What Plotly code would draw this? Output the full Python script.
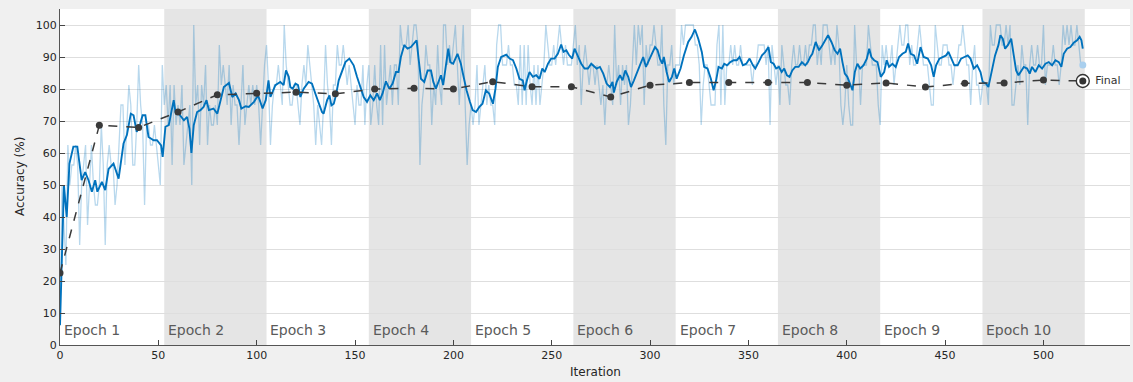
import plotly.graph_objects as go

# ---------------- data ----------------
batch_size = 16
# mini-batch correct counts (out of 16) per iteration 0..520
train_correct = [
    1, 8, 6, 4, 10, 8, 9, 9, 10, 9,
    5, 8, 9, 10, 6, 8, 10, 8, 7, 7,
    8, 11, 9, 5, 9, 10, 9, 9, 7, 8,
    10, 12, 12, 9, 11, 13, 12, 9, 9, 11,
    14, 12, 11, 7, 11, 11, 10, 10, 11, 10,
    9, 8, 14, 12, 13, 11, 13, 9, 13, 11,
    12, 11, 13, 9, 10, 11, 12, 8, 16, 12,
    13, 10, 13, 12, 14, 10, 12, 11, 11, 12,
    11, 15, 13, 14, 13, 12, 14, 11, 13, 12,
    12, 10, 12, 14, 11, 12, 13, 12, 13, 12,
    13, 12, 10, 12, 14, 15, 13, 10, 12, 13,
    13, 14, 13, 12, 16, 14, 13, 12, 12, 13,
    13, 12, 11, 13, 14, 13, 15, 14, 13, 12,
    10, 12, 11, 10, 12, 15, 13, 12, 10, 13,
    13, 15, 14, 14, 15, 14, 13, 14, 13, 12,
    11, 13, 12, 12, 14, 11, 13, 14, 11, 12,
    14, 12, 11, 15, 11, 15, 12, 13, 14, 12,
    14, 14, 12, 16, 15, 15, 15, 16, 14, 15,
    16, 16, 15, 9, 12, 13, 15, 14, 14, 11,
    13, 12, 15, 13, 12, 16, 16, 14, 15, 14,
    15, 16, 14, 12, 14, 16, 12, 9, 11, 12,
    11, 12, 14, 11, 12, 13, 14, 12, 13, 12,
    12, 11, 15, 16, 16, 14, 14, 14, 15, 14,
    14, 13, 13, 12, 15, 12, 15, 12, 15, 13,
    12, 14, 12, 14, 12, 13, 14, 16, 15, 14,
    14, 15, 14, 15, 16, 15, 14, 15, 14, 14,
    14, 15, 16, 14, 15, 12, 14, 15, 14, 13,
    14, 14, 13, 14, 13, 12, 13, 11, 13, 14,
    13, 12, 16, 13, 14, 12, 14, 13, 14, 11,
    12, 14, 16, 14, 16, 15, 16, 12, 15, 14,
    15, 15, 16, 15, 14, 14, 16, 12, 10, 14,
    14, 15, 13, 14, 14, 14, 16, 15, 16, 16,
    16, 16, 16, 15, 15, 14, 11, 13, 14, 14,
    13, 12, 12, 12, 15, 16, 12, 16, 12, 14,
    14, 15, 14, 15, 14, 14, 15, 14, 14, 14,
    14, 14, 13, 14, 14, 15, 15, 15, 15, 14,
    15, 11, 15, 14, 13, 14, 12, 15, 14, 13,
    13, 12, 14, 15, 14, 14, 15, 14, 14, 15,
    14, 15, 15, 16, 16, 14, 15, 14, 16, 16,
    16, 15, 14, 15, 14, 16, 15, 12, 11, 12,
    14, 12, 11, 11, 16, 14, 14, 12, 14, 14,
    14, 16, 15, 14, 14, 14, 12, 11, 15, 14,
    15, 14, 14, 15, 13, 14, 15, 16, 15, 15,
    16, 16, 14, 15, 14, 14, 15, 16, 15, 14,
    14, 14, 13, 12, 12, 16, 15, 14, 14, 15,
    15, 15, 14, 14, 13, 14, 14, 15, 15, 16,
    15, 14, 14, 12, 14, 15, 13, 13, 12, 13,
    13, 13, 12, 16, 15, 15, 16, 16, 16, 15,
    15, 16, 15, 16, 12, 12, 13, 14, 13, 15,
    14, 14, 11, 14, 15, 14, 14, 15, 14, 14,
    16, 13, 14, 14, 14, 15, 14, 14, 13, 14,
    16, 15, 16, 15, 16, 15, 15, 16, 15, 14, 14,
]
train_iter = list(range(len(train_correct)))
train_acc = [100.0 * c / batch_size for c in train_correct]

smooth_iter = [
    0, 2, 3.4, 4.8, 6.8, 8.8, 11, 12.8, 14.5, 16.2, 17.9, 19, 21.3, 23, 24.7, 27.2, 29.8,
    32.3, 34, 36, 37.4, 39, 40.8, 42, 43.4, 45, 47.6, 49.3, 51.4, 52.2, 53.6, 55.3, 57.8,
    58.7, 60.4, 63, 64.6, 65.8, 66.8, 68, 69.7, 71.4, 73, 74.5, 75.7, 78, 80, 81.6, 83.3,
    85.9, 87.6, 89.3, 91, 92.2, 94.4, 96, 98.6, 100.7, 103, 104.6, 106, 107, 109.5, 112,
    113.7, 114.9, 116.3, 117.1, 118.3, 119.7, 121, 122.2, 123.9, 126.4, 128.1, 129.8,
    131.5, 133.2, 134, 135.8, 137, 138, 139.2, 140.3, 141.7, 143.4, 145.1, 147.1, 149.3,
    151, 152.7, 154.4, 156.1, 157.8, 159.5, 161.2, 162.6, 164, 165.7, 167.4, 169.1, 170.8,
    172.1, 173.3, 175, 176.7, 178.4, 180.1, 181.3, 182.3, 183.5, 185.2, 186.9, 188.6,
    189.8, 191.1, 192.5, 193.7, 194.8, 196.2, 197.4, 198.4, 199.9, 202.1, 203.8, 205.2,
    206.7, 208.4, 209.8, 211.5, 213.2, 214.8, 216.5, 218.2, 220.1, 221.4, 222.6, 224.3,
    226.9, 228.6, 230.3, 232, 233.6, 235.3, 236.2, 237.4, 238.7, 240.4, 242.1, 243.8,
    245.2, 246.4, 248.1, 249.7, 251.4, 253.1, 254.8, 256, 257.4, 258.7, 260.4, 261.6,
    263.3, 265, 266.7, 268.4, 270.1, 271.1, 272.8, 274.5, 276.2, 277.9, 279.6, 280.9,
    281.6, 283, 284.7, 286, 287.4, 288.9, 290.3, 291.8, 293.5, 295.2, 296.5, 297.9, 299.1,
    300.8, 302.5, 303.8, 305, 306.2, 307, 308.4, 309.7, 311.1, 312.3, 313.5, 315.5, 317.2,
    319.4, 321.1, 322.8, 324.5, 326.3, 327.5, 329.2, 330.9, 332.3, 333.6, 334.8, 336.5,
    337.7, 339.1, 340.8, 342.5, 344.1, 345.5, 347.2, 348.9, 350.6, 352.3, 353.5, 355.2,
    356.9, 358.6, 360.2, 361.4, 362.8, 364.1, 365.5, 366.9, 368.2, 369.6, 370.9, 372.3,
    373.8, 375.5, 377.2, 378.9, 380.3, 381.4, 382.5, 384.2, 385.9, 387.6, 389.3, 390.5,
    392.2, 393.9, 395.3, 396.6, 397.8, 399, 400.3, 401.7, 402.9, 404.1, 405.4, 406.8,
    408.5, 410.2, 411.4, 412.5, 413.9, 415.6, 417.3, 419, 420.3, 421.5, 423.2, 424.9,
    426.6, 428.3, 430, 431.2, 432.5, 434.2, 435.8, 437.5, 439.1, 441.2, 442.9, 444.2,
    445.4, 447.1, 448.8, 450.5, 451.7, 453.4, 454.7, 456.4, 458.1, 459.8, 461.5, 462.9,
    464.6, 466.3, 468, 469.1, 470.8, 472, 473.7, 475.4, 477.1, 478.1, 479.3, 480.5, 481.9,
    483.6, 484.9, 486.1, 487.3, 489, 490, 491.7, 493, 494.2, 495.9, 497.6, 499.3, 501,
    502.7, 504.4, 506.1, 507.8, 509.1, 510.3, 512, 513.7, 515.4, 517.1, 518.4, 519.3, 520,
]
smooth_acc = [
    6.2, 50, 40, 56.7, 62, 62, 51.5, 54, 51.5, 47.9, 51.5, 47.9, 51, 48.4, 55, 56.7, 52,
    63, 65.6, 72.3, 71.8, 66.6, 69.2, 71.8, 71.8, 65, 64, 64, 62.4, 58.8, 68.2, 68.7, 76.5,
    72.8, 72.3, 70.2, 71.3, 67.6, 60, 68.7, 72.8, 73.4, 74.4, 76.5, 73.4, 73.9, 72.3, 76.5, 80.6,
    81.9, 77.5, 78.6, 76.5, 73.9, 74.6, 74.4, 76, 78, 73.9, 76.5, 82.7, 77.5, 81.2, 82.2,
    81.2, 85.8, 83.8, 80.6, 80.1, 81.7, 81.2, 77.5, 80.1, 82.2, 81.7, 78.6,
    75.4, 72.8, 72.3, 76.5, 78, 74.9, 75.4, 78, 82.7, 85.8, 88.4, 89.5, 87.4,
    83.8, 80.6, 77.5, 76, 78, 76.5, 78.6, 76.5, 78.6, 82.4, 80.1, 81.7, 85.3,
    85.3, 90, 93.7, 92.6, 93.1, 94.2, 95.2, 89.5, 83.2, 82.2, 85.8, 85.8,
    82.2, 80.1, 82.7, 84.3, 81.2, 87.9, 92.6, 88.4, 87.9, 91, 87.9, 83.8,
    79.6, 76, 73.4, 72.8, 74.4, 75.4, 79.6, 78.6, 75.4, 80.1, 86.9, 90,
    90.7, 89.5, 89, 86.4, 83.2, 82.7, 79.6, 82.7, 85.3, 83.8, 84.3, 83.2,
    86.4, 85.3, 87.9, 89.5, 89.5, 91, 93.9, 91.6, 92.1, 90.7, 89.5, 92.6,
    90.5, 87.9, 86.4, 86.4, 87.9, 87.4, 86.4, 86.9, 84.8, 81.7, 80.6, 82.2,
    78.9, 82.2, 84.3, 82.7, 85.8, 83.8, 80.6, 82.7, 85.3, 88.4, 90, 86.9, 88.4,
    90.5, 93.1, 92.1, 89.5, 87.9, 90, 85.3, 82.2, 83.8, 86.4, 83.2, 86.4, 90.5,
    94.7, 96.3, 98.6, 95.7, 91.6, 86.9, 86.4, 83.2, 79.6, 82.7, 86.9, 86.4,
    87.9, 87.4, 88.4, 89, 89, 90, 87.4, 87.9, 89.5, 87.4, 86.4, 88.4,
    90.5, 91.6, 93.1, 88.4, 87.9, 86.4, 86.9, 85.3, 86.4, 84.3, 83.8, 85.8,
    86.9, 86.9, 88.4, 87.4, 88.5, 90, 91, 94.7, 92.1, 93.7, 95.7, 96.8,
    94.7, 92.1, 91, 92.6, 88.4, 84.8, 83.8, 81.7, 79.6, 85.3, 87.9, 86.4,
    87.4, 89.5, 92.6, 90, 89, 88.4, 83.8, 85.3, 89, 86.9, 87.9, 86.9,
    90, 91, 91.6, 94.2, 91, 90.5, 87.9, 93.1, 90, 89.5, 87.4, 83.8,
    87.4, 89.5, 90, 90.5, 91.6, 89.5, 87.4, 87.4, 89.5, 90, 90.5, 89.5,
    86.4, 87.4, 85.3, 82.2, 81.7, 80.6, 85.8, 90.5, 93.7, 96.8, 95.7, 92.6, 93.7,
    95.7, 90.5, 85.8, 84.3, 85.8, 86.9, 86.4, 84.8, 86.9, 85.3, 87.4, 86.4, 87.9,
    88.4, 87.4, 89, 88.4, 86.9, 91, 92.6, 93.1, 94.5, 95.2, 96.3, 95.2, 92.6,
]

val_iter = [0, 20, 40, 60, 80, 100, 120, 140, 160, 180, 200, 220, 240, 260,
            280, 300, 320, 340, 360, 380, 400, 420, 440, 460, 480, 500, 520]
val_acc = [22.5, 68.7, 68.0, 72.8, 78.2, 78.7, 79.0, 78.5, 80.0, 80.2, 80.0, 82.3, 80.7, 80.7,
           77.5, 81.2, 82.0, 82.0, 82.0, 82.0, 81.2, 81.9, 80.6, 81.8, 81.9, 82.8, 82.5]
final_iter = [520]
final_acc = [82.5]
final_train_acc = [87.5]

iters_per_epoch = 52
epoch_labels = ["Epoch 1", "Epoch 2", "Epoch 3", "Epoch 4", "Epoch 5",
                "Epoch 6", "Epoch 7", "Epoch 8", "Epoch 9", "Epoch 10"]
x_ticks = [0, 50, 100, 150, 200, 250, 300, 350, 400, 450, 500]
y_ticks = [0, 10, 20, 30, 40, 50, 60, 70, 80, 90, 100]

# ---------------- figure ----------------
FONT = "DejaVu Sans, Liberation Sans, sans-serif"
fig = go.Figure()

fig.add_trace(go.Scatter(
    x=train_iter, y=train_acc, mode="lines",
    line=dict(color="rgba(0,114,189,0.28)", width=1.3),
    hoverinfo="skip", showlegend=False))

fig.add_trace(go.Scatter(
    x=smooth_iter, y=smooth_acc, mode="lines",
    line=dict(color="#0072BD", width=1.9),
    showlegend=False))

fig.add_trace(go.Scatter(
    x=final_iter, y=final_train_acc, mode="markers",
    marker=dict(color="#a9cfee", size=7),
    showlegend=False))

fig.add_trace(go.Scatter(
    x=val_iter, y=val_acc, mode="lines+markers",
    line=dict(color="#3a3a3a", width=1.5, dash="dash"),
    marker=dict(color="#3a3a3a", size=7),
    showlegend=False))

# final validation: ring + dot + label
fig.add_trace(go.Scatter(
    x=final_iter, y=final_acc, mode="markers",
    marker=dict(color="rgba(255,255,255,0.9)", size=13, symbol="circle",
                line=dict(color="#333333", width=1.4)),
    showlegend=False))
fig.add_trace(go.Scatter(
    x=final_iter, y=final_acc, mode="markers+text",
    marker=dict(color="#333333", size=7),
    text=["  Final"], textposition="middle right",
    textfont=dict(family=FONT, size=11, color="#333333"),
    showlegend=False))

shapes = []
annotations = []
for k, lab in enumerate(epoch_labels):
    x0 = 0 if k == 0 else k * iters_per_epoch + 1
    x1 = (k + 1) * iters_per_epoch + 1
    if k % 2 == 1:
        shapes.append(dict(type="rect", xref="x", yref="y", x0=x0, x1=x1, y0=0, y1=105,
                           fillcolor="#e5e5e5", line=dict(width=0), layer="below"))
    annotations.append(dict(x=x0 + 1, y=4.6, xref="x", yref="y", text=lab,
                            showarrow=False, xanchor="left", yanchor="middle",
                            font=dict(family=FONT, size=14, color="#5a5a5a")))

annotations.append(dict(x=0, y=0.5, xref="paper", yref="paper", xshift=-40,
                        text="Accuracy (%)", textangle=-90, showarrow=False,
                        xanchor="center", yanchor="middle",
                        font=dict(family=FONT, size=12, color="#262626")))
annotations.append(dict(x=0.5, y=0, xref="paper", yref="paper", yshift=-27,
                        text="Iteration", showarrow=False,
                        xanchor="center", yanchor="middle",
                        font=dict(family=FONT, size=12, color="#262626")))

fig.update_layout(
    width=1133, height=382,
    margin=dict(l=60, r=3, t=9, b=37, autoexpand=False),
    paper_bgcolor="#f0f0f0", plot_bgcolor="#ffffff",
    shapes=shapes, annotations=annotations,
    font=dict(family=FONT, size=11, color="#262626"),
    xaxis=dict(range=[0, 544], tickvals=x_ticks, ticks="inside", ticklen=5,
               tickcolor="#444", showgrid=False, zeroline=False, automargin=False,
               showline=True, linecolor="#555", linewidth=1,
               tickfont=dict(family=FONT, size=11, color="#262626")),
    yaxis=dict(range=[0, 105], tickvals=y_ticks, ticks="inside", ticklen=5,
               tickcolor="#444", showgrid=True, gridcolor="#dedede", gridwidth=1,
               zeroline=False, showline=True, linecolor="#555", linewidth=1,
               automargin=False,
               tickfont=dict(family=FONT, size=11, color="#262626")),
)

fig.write_html(
    "out.html",
    config={"displayModeBar": False},
    post_script="document.body.style.margin='0px';document.body.style.background='#f0f0f0';",
)
